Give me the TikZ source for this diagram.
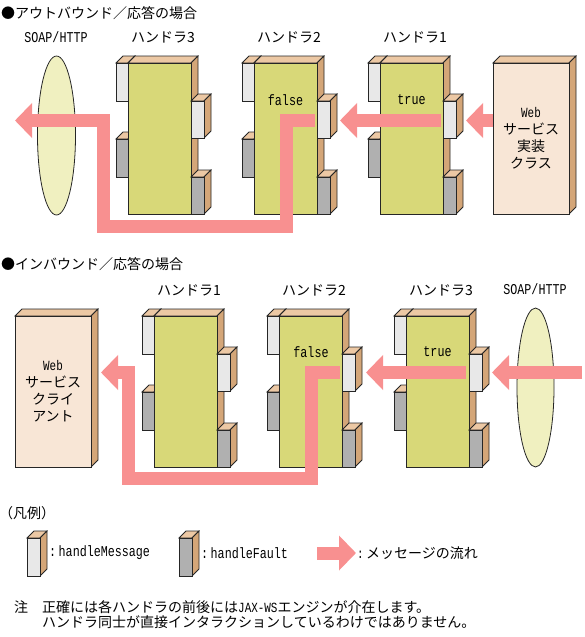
\documentclass[tikz,border=0pt]{standalone}
\usepackage{fontspec}
\usepackage{xcolor}
\usepackage{tikz}
\usetikzlibrary{arrows.meta,shapes.geometric}
\newfontfamily\jp{Noto Sans CJK JP}
\newfontfamily\mono[FakeStretch=0.78]{Liberation Mono}
\definecolor{bodyc}{RGB}{216,216,120}
\definecolor{topc}{RGB}{236,200,164}
\definecolor{sidec}{RGB}{212,166,120}
\definecolor{webc}{RGB}{248,230,214}
\definecolor{ellc}{RGB}{240,240,192}
\definecolor{msgc}{RGB}{232,232,232}
\definecolor{faultc}{RGB}{176,176,176}
\definecolor{flowc}{RGB}{248,144,144}

\tikzset{
  edge/.style={draw=black!85,line width=0.8pt,line join=miter},
  body/.style={edge,fill=bodyc,anchor=north west,inner sep=0pt,outer sep=0pt,
    minimum width=63pt,minimum height=151pt},
  webbox/.style={edge,fill=webc,anchor=north west,inner sep=0pt,outer sep=0pt,
    minimum width=76pt,minimum height=151pt,align=center,font=\jp\fontsize{14}{17}\selectfont},
  wire/.style={edge,fill=ellc,ellipse,inner sep=0pt,minimum width=38pt,minimum height=159pt},
  lbl/.style={inner sep=0pt,font=\jp\fontsize{14}{15}\selectfont},
  code/.style={inner sep=0pt,font=\mono\fontsize{15}{17}\selectfont},
  flow/.style={draw=flowc,line width=13pt,line join=miter,-{Triangle[length=17pt,width=34pt]}}
}

% top and right faces of a block, front corner at (#1,#2), size #3 x #4
\newcommand{\slab}[4]{%
  \filldraw[edge,fill=topc] (#1,#2) -- ++(7,-7) -- ++(#3,0) -- ++(-7,7) -- cycle;
  \filldraw[edge,fill=sidec] (#1+#3,#2) -- ++(7,-7) -- ++(0,#4) -- ++(-7,7) -- cycle;
}
% method tab
\newcommand{\methtab}[5]{%
  \slab{#1}{#2}{#3}{#4}
  \filldraw[edge,fill=#5] (#1,#2) rectangle ++(#3,#4);
}
% handler: name, front top-left corner, number
\newcommand{\handler}[4]{%
  \methtab{#2-12}{#3}{12}{38}{msgc}
  \methtab{#2-12}{#3+76}{12}{38}{faultc}
  \slab{#2}{#3}{63}{151}
  \node[body] (#1) at (#2,#3) {};
  \methtab{#2+63}{#3+38}{13}{37}{msgc}
  \methtab{#2+63}{#3+114}{13}{37}{faultc}
  \node[lbl] (#1-lbl) at (#2+35,#3-26) {ハンドラ#4};
}

\begin{document}
\begin{tikzpicture}[x=1pt,y=-1pt]
  \useasboundingbox (0,0) rectangle (585,637);

  % outbound
  \node[lbl,anchor=west] (out-title) at (1,13) {●アウトバウンド／応答の場合};
  \node[wire] (soap1) at (56.5,135.5) {};
  \node[code] (soap1-lbl) at (56,37) {SOAP/HTTP};
  \handler{oh3}{128}{63}{3}
  \handler{oh2}{254}{63}{2}
  \handler{oh1}{380}{63}{1}
  \slab{493}{63}{76}{151}
  \node[webbox] (impl) at (493,63) {{\mono Web}\\サービス\\実装\\クラス};
  \node[code] (oh2-rv) at (285.5,100) {false};
  \node[code] (oh1-rv) at (411.5,100) {true};
  \coordinate (olane) at (0,120.5);
  \coordinate (o-tip1) at (466,120.5);
  \coordinate (o-src2) at (441,120.5);
  \coordinate (o-tip2) at (340,120.5);
  \coordinate (o-src3) at (315,120.5);
  \coordinate (o-turn) at (286,226.5);
  \coordinate (o-back) at (103.5,226.5);
  \coordinate (o-tip3) at (15,120.5);
  \draw[flow] (impl.west |- olane) -- (o-tip1);
  \draw[flow] (o-src2) -- (o-tip2);
  \draw[flow] (o-src3) -| (o-turn) -- (o-back) |- (o-tip3);

  % inbound
  \node[lbl,anchor=west] (in-title) at (1,264) {●インバウンド／応答の場合};
  \slab{15}{316}{76}{151}
  \node[webbox] (client) at (15,316) {{\mono Web}\\サービス\\クライ\\アント};
  \handler{ih1}{154}{316}{1}
  \handler{ih2}{279}{316}{2}
  \handler{ih3}{406}{316}{3}
  \node[wire,minimum width=37pt] (soap2) at (535.5,387.5) {};
  \node[code] (soap2-lbl) at (535,289) {SOAP/HTTP};
  \node[code] (ih2-rv) at (311,352) {false};
  \node[code] (ih3-rv) at (437.5,352) {true};
  \coordinate (i-src1) at (582,372.5);
  \coordinate (i-tip1) at (492,372.5);
  \coordinate (i-src2) at (466,372.5);
  \coordinate (i-tip2) at (366,372.5);
  \coordinate (i-src3) at (340,372.5);
  \coordinate (i-turn) at (311,478.5);
  \coordinate (i-back) at (128.5,478.5);
  \coordinate (i-tip3) at (101,372.5);
  \draw[flow] (i-src1) -- (i-tip1);
  \draw[flow] (i-src2) -- (i-tip2);
  \draw[flow] (i-src3) -| (i-turn) -- (i-back) |- (i-tip3);

  % legend
  \node[lbl,anchor=west] (key) at (-1,513) {（凡例）};
  \methtab{27}{538}{13}{38}{msgc}
  \node[code,anchor=west] (key-m) at (49,553) {:\,handleMessage};
  \methtab{179}{538}{13}{38}{faultc}
  \node[code,anchor=west] (key-f) at (201,553) {:\,handleFault};
  \coordinate (key-a0) at (317,553);
  \coordinate (key-a1) at (356,553);
  \draw[flow] (key-a0) -- (key-a1);
  \node[lbl,anchor=west] (key-a) at (357,553) {{\mono :\,}メッセージの流れ};

  % note
  \node[lbl,anchor=west] (note-h) at (14,607) {注};
  \node[lbl,anchor=west] (note1) at (42,607) {正確には各ハンドラの前後には{\mono JAX-WS}エンジンが介在します。};
  \node[lbl,anchor=west] (note2) at (42,622.5) {ハンドラ同士が直接インタラクションしているわけではありません。};
\end{tikzpicture}
\end{document}
